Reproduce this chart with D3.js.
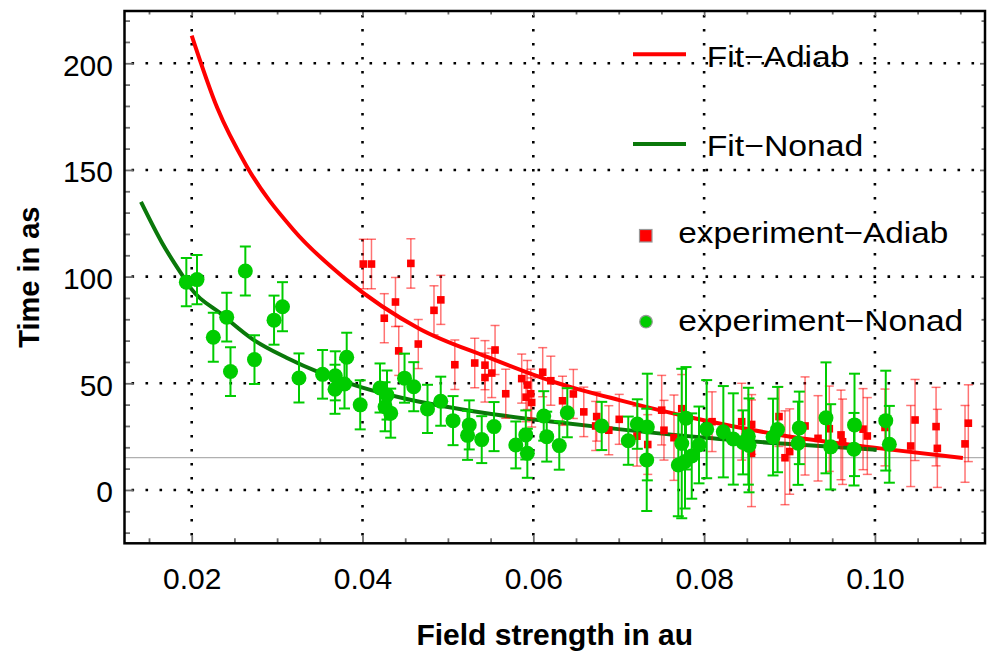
<!DOCTYPE html>
<html><head><meta charset="utf-8">
<script src="https://cdn.jsdelivr.net/npm/d3@7"></script>
<style>
body{margin:0;background:#fff}
svg{display:block;font-family:"Liberation Sans",Arial,Helvetica,sans-serif}
</style>
</head><body>
<svg id="c" width="1000" height="661"></svg>
<script>
// ---------- data ----------
const xTicks = [0.02, 0.04, 0.06, 0.08, 0.10];
const xTickLabels = ["0.02", "0.04", "0.06", "0.08", "0.10"];
const yTicks = [0, 50, 100, 150, 200];
const yTickLabels = ["0", "50", "100", "150", "200"];
const xMinorTicks = [0.015,0.025,0.03,0.035,0.045,0.05,0.055,0.065,0.07,0.075,0.085,0.09,0.095,0.105,0.11];
const yMinorTicks = [-20,-10,10,20,30,40,60,70,80,90,110,120,130,140,160,170,180,190,210,220];
const refLineY = [15.2];

const xTitle = "Field strength in au";
const yTitle = "Time in as";
const legendLabels = ["Fit\u2212Adiab", "Fit\u2212Nonad", "experiment\u2212Adiab", "experiment\u2212Nonad"];

// fit curves
const fitAdiabX = [0.0200,0.0230,0.0264,0.0319,0.0381,0.0467,0.0545,0.0623,0.0702,0.0790,0.0889,0.1006,0.1103];
const fitAdiabY = [213,179,152,122,98.6,75.5,62.5,50.8,42,33.5,25.8,19.5,15];
const fitNonadX = [0.01406,0.0165,0.0190,0.0200,0.0233,0.0272,0.0311,0.0350,0.0400,0.0448,0.0545,0.0623,0.0702,0.0795,0.0900,0.1002];
const fitNonadY = [135,116,100,94,83,70.5,62,55,48,43,36,32,28.4,24.7,21.5,18.8];

// experiment - Nonad
const nonadX = [0.01937,0.02062,0.02253,0.0241,0.02454,0.02628,0.02735,0.02964,0.03063,0.03256,0.03532,0.03681,0.03678,0.03789,0.03815,0.03973,0.04205,0.04287,0.04264,0.0433,0.04492,0.046,0.04761,0.04916,0.0506,0.0525,0.0523,0.05396,0.0554,0.05795,0.05912,0.0593,0.06122,0.06157,0.06304,0.06398,0.06801,0.07112,0.07218,0.07335,0.07328,0.07788,0.07738,0.07698,0.07776,0.07855,0.0794,0.0803,0.08225,0.08342,0.08455,0.08518,0.08526,0.08807,0.0886,0.091,0.09115,0.09427,0.09482,0.09761,0.09755,0.10127,0.10169];
const nonadY = [97.4,98.6,71.6,81.0,55.5,102.6,61.1,79.6,85.9,52.5,54.2,53.5,47.2,49.7,62.2,39.9,47.8,44.5,39.0,36.0,52.4,48.4,38.0,41.6,32.5,30.5,25.6,23.6,29.7,21.1,25.8,17.2,34.7,25.0,20.8,36.2,30.0,23.1,30.9,29.5,14.1,33.6,21.8,11.7,13.3,15.9,21.1,28.5,27.3,23.9,22.3,25.2,20.9,24.8,28.3,21.9,29.1,33.8,20.2,30.5,19.1,32.5,21.4];
const nonadErr = [11.3,11.5,11.5,11.4,11.4,11.5,11.4,11.5,11.5,11.5,11.4,11.5,11.5,11.5,11.5,11.5,11.5,11.5,11.5,11.5,11.5,11.5,11.3,11.5,11.5,11.5,11.5,11,11.5,11,11.5,11.5,11.6,11.7,11.3,11.5,11.3,11.3,11.6,25,24,24,35,24,22,20,18,23,21.4,21.4,15,22.7,22,18,20,19.5,17,26,20,24,17,23.4,18];

// experiment - Adiab
const adiabX = [0.04009,0.04105,0.04566,0.04255,0.04386,0.04424,0.04653,0.04837,0.04917,0.05081,0.05314,0.05434,0.05434,0.05513,0.05552,0.05677,0.05864,0.0593,0.05915,0.0597,0.05981,0.0611,0.06205,0.06342,0.06469,0.06591,0.06742,0.0673,0.06884,0.07006,0.07214,0.0734,0.07503,0.0753,0.07647,0.07738,0.08093,0.0844,0.08557,0.08555,0.08877,0.08947,0.09002,0.09182,0.09334,0.09466,0.09603,0.09621,0.09861,0.09911,0.10118,0.1047,0.10419,0.10716,0.10731,0.11055,0.11094];
const adiabY = [105.9,105.9,106.2,80.5,88.1,65.2,68.4,84.2,89.1,58.7,59.5,58.5,52.7,54.8,65.6,45.1,52.2,49.2,43.5,45.1,41.0,55.2,51.2,41.8,45.0,36.6,34.4,30.0,28.0,33.1,25.2,21.3,37.4,28.0,24.5,38.1,32.0,32.0,30.7,17.2,34.4,15.1,18.0,30.0,24.2,28.7,25.8,22.6,28.5,25.3,29.3,32.8,20.6,29.7,19.5,21.6,31.3];
const adiabErr = [11.6,11.6,11.6,11.5,11.5,11.5,11.5,11.5,11.5,11.6,11.6,11.5,11.5,11.5,11.5,11.5,11.5,11.5,11.5,11.5,11.5,11.5,11.5,11.5,11.5,11.6,11.5,11.5,11.5,11.7,14,14,16.3,14,20,16,14,18,14,25,14,22,20,23,20,20,21,20,19,18,18,19,19,18.4,18.3,18,18];

// ---------- layout ----------
const L = 124.5, R = 985, T = 11, B = 543.3;
const x = d3.scaleLinear().domain([0.01213, 0.11289]).range([L, R]);
const y = d3.scaleLinear().domain([-25, 224.5]).range([B, T]);
const svg = d3.select('#c');

svg.append('clipPath').attr('id', 'clip').append('rect')
  .attr('x', L).attr('y', T).attr('width', R - L).attr('height', B - T);
const plot = svg.append('g').attr('clip-path', 'url(#clip)');

// grid
const dots = '2.6 11.4';
plot.selectAll('.gx').data(xTicks).join('line').attr('class', 'gx')
  .attr('x1', d => x(d)).attr('x2', d => x(d)).attr('y1', T + 4).attr('y2', B)
  .attr('stroke', '#000').attr('stroke-width', 2.6).attr('stroke-dasharray', dots);
plot.selectAll('.gy').data(yTicks).join('line').attr('class', 'gy')
  .attr('y1', d => y(d)).attr('y2', d => y(d)).attr('x1', L + 7).attr('x2', R)
  .attr('stroke', '#000').attr('stroke-width', 2.6).attr('stroke-dasharray', dots);

// reference line
plot.selectAll('.ref').data(refLineY).join('line').attr('class', 'ref')
  .attr('x1', L).attr('x2', R).attr('y1', d => y(d)).attr('y2', d => y(d))
  .attr('stroke', '#b0b0b0').attr('stroke-width', 1.2);

// fit curves
const line = d3.line().x(d => x(d[0])).y(d => y(d[1])).curve(d3.curveMonotoneX);
plot.append('path').datum(fitAdiabX.map((v, i) => [v, fitAdiabY[i]]))
  .attr('d', line).attr('fill', 'none').attr('stroke', '#ff0000').attr('stroke-width', 4);
plot.append('path').datum(fitNonadX.map((v, i) => [v, fitNonadY[i]]))
  .attr('d', line).attr('fill', 'none').attr('stroke', '#0a780a').attr('stroke-width', 4);

// adiab error bars + squares
const adiab = adiabX.map((v, i) => ({x: v, y: adiabY[i], e: adiabErr[i]}));
const ga = plot.append('g').attr('stroke', '#ff0000').attr('stroke-opacity', 0.55).attr('stroke-width', 1.5);
adiab.forEach(d => {
  const cx = x(d.x), y1 = y(d.y + d.e), y2 = y(d.y - d.e);
  ga.append('line').attr('x1', cx).attr('x2', cx).attr('y1', y1).attr('y2', y2);
  ga.append('line').attr('x1', cx - 4.5).attr('x2', cx + 4.5).attr('y1', y1).attr('y2', y1);
  ga.append('line').attr('x1', cx - 4.5).attr('x2', cx + 4.5).attr('y1', y2).attr('y2', y2);
});
plot.selectAll('.sq').data(adiab).join('rect').attr('class', 'sq')
  .attr('x', d => x(d.x) - 3.8).attr('y', d => y(d.y) - 3.8).attr('width', 7.6).attr('height', 7.6)
  .attr('fill', '#ff0000');

// nonad error bars + circles
const nonad = nonadX.map((v, i) => ({x: v, y: nonadY[i], e: nonadErr[i]}));
const gn = plot.append('g').attr('stroke', '#00cc00').attr('stroke-width', 2);
nonad.forEach(d => {
  const cx = x(d.x), y1 = y(d.y + d.e), y2 = y(d.y - d.e);
  gn.append('line').attr('x1', cx).attr('x2', cx).attr('y1', y1).attr('y2', y2);
  gn.append('line').attr('x1', cx - 5.5).attr('x2', cx + 5.5).attr('y1', y1).attr('y2', y1);
  gn.append('line').attr('x1', cx - 5.5).attr('x2', cx + 5.5).attr('y1', y2).attr('y2', y2);
});
plot.selectAll('.ci').data(nonad).join('circle').attr('class', 'ci')
  .attr('cx', d => x(d.x)).attr('cy', d => y(d.y)).attr('r', 7.5).attr('fill', '#00cc00');

// ---------- axes ----------
function styleAxis(g) {
  g.select('.domain').remove();
  g.selectAll('.tick line').attr('stroke', '#6e6e6e').attr('stroke-width', 1.8);
  g.selectAll('.tick text').attr('fill', '#000').attr('font-size', 30)
    .attr('font-family', '"Liberation Sans",Arial,sans-serif');
}
svg.append('g').attr('transform', `translate(0,${B})`)
  .call(d3.axisBottom(x).tickValues(xTicks).tickFormat((d, i) => xTickLabels[i]).tickSizeInner(-8).tickSizeOuter(0).tickPadding(24))
  .call(styleAxis);
svg.append('g').attr('transform', `translate(0,${B})`)
  .call(d3.axisBottom(x).tickValues(xMinorTicks).tickFormat('').tickSizeInner(-5).tickSizeOuter(0))
  .call(styleAxis);
svg.append('g').attr('transform', `translate(${L},0)`)
  .call(d3.axisLeft(y).tickValues(yTicks).tickFormat((d, i) => yTickLabels[i]).tickSizeInner(-9).tickSizeOuter(0).tickPadding(11.5))
  .call(styleAxis)
  .call(g => g.selectAll('.tick text').attr('dy', '0.4em'));
svg.append('g').attr('transform', `translate(${L},0)`)
  .call(d3.axisLeft(y).tickValues(yMinorTicks).tickFormat('').tickSizeInner(-5.5).tickSizeOuter(0))
  .call(styleAxis);
svg.append('g').attr('transform', `translate(0,${T})`)
  .call(d3.axisTop(x).tickValues(xTicks).tickFormat('').tickSizeInner(-5).tickSizeOuter(0)).call(styleAxis);
svg.append('g').attr('transform', `translate(0,${T})`)
  .call(d3.axisTop(x).tickValues(xMinorTicks).tickFormat('').tickSizeInner(-3.5).tickSizeOuter(0)).call(styleAxis);
svg.append('g').attr('transform', `translate(${R},0)`)
  .call(d3.axisRight(y).tickValues(yTicks).tickFormat('').tickSizeInner(-5).tickSizeOuter(0)).call(styleAxis);
svg.append('g').attr('transform', `translate(${R},0)`)
  .call(d3.axisRight(y).tickValues(yMinorTicks).tickFormat('').tickSizeInner(-3.5).tickSizeOuter(0)).call(styleAxis);

// frame
svg.append('rect').attr('x', L).attr('y', T).attr('width', R - L).attr('height', B - T)
  .attr('fill', 'none').attr('stroke', '#000').attr('stroke-width', 2.5);

// axis titles
svg.append('text').attr('x', (L + R) / 2).attr('y', 645).attr('text-anchor', 'middle')
  .attr('font-size', 30).attr('font-weight', 'bold').text(xTitle);
svg.append('text').attr('transform', `translate(39,${(T + B) / 2}) rotate(-90)`).attr('text-anchor', 'middle')
  .attr('font-size', 29).attr('font-weight', 'bold').text(yTitle);

// ---------- legend ----------
const leg = svg.append('g');
leg.append('line').attr('x1', 633).attr('x2', 686).attr('y1', 54.3).attr('y2', 54.3)
  .attr('stroke', '#ff0000').attr('stroke-width', 4);
leg.append('line').attr('x1', 633).attr('x2', 686).attr('y1', 144).attr('y2', 144)
  .attr('stroke', '#0a780a').attr('stroke-width', 4);
leg.append('rect').attr('x', 639.5).attr('y', 229.5).attr('width', 12.5).attr('height', 12.5)
  .attr('fill', '#ff0000').attr('stroke', '#999').attr('stroke-width', 1.2);
leg.append('circle').attr('cx', 646).attr('cy', 321.7).attr('r', 6.3)
  .attr('fill', '#00cc00').attr('stroke', '#999').attr('stroke-width', 1.2);
const legPos = [[706.7, 66.7, 142.7], [706.7, 156, 156.7], [678.3, 243.3, 270], [678.3, 330.5, 285]];
leg.selectAll('text').data(legendLabels).join('text')
  .attr('x', (d, i) => legPos[i][0]).attr('y', (d, i) => legPos[i][1])
  .attr('textLength', (d, i) => legPos[i][2]).attr('lengthAdjust', 'spacingAndGlyphs')
  .attr('font-size', 30).attr('fill', '#000').text(d => d);
</script>
</body></html>
